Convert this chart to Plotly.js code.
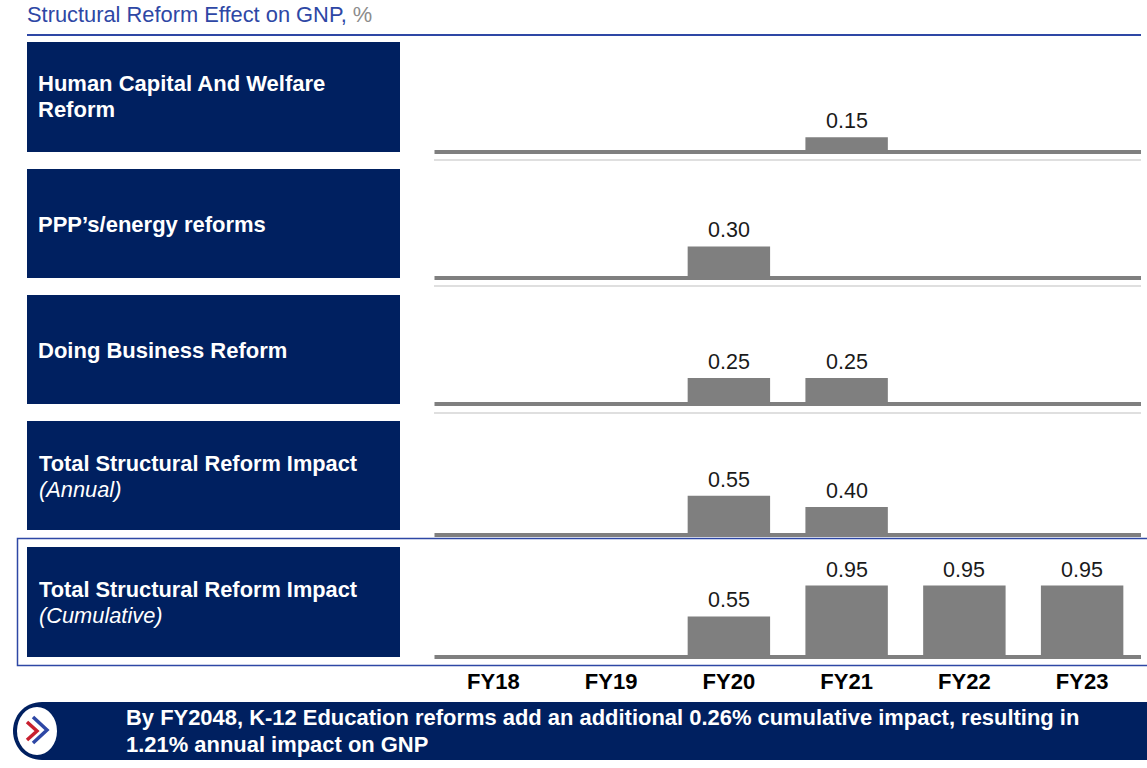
<!DOCTYPE html>
<html><head><meta charset="utf-8">
<script src="https://cdn.plot.ly/plotly-3.0.1.min.js"></script>
<style>html,body{margin:0;padding:0;background:#fff;overflow:hidden}#c{width:1147px;height:768px}</style>
</head><body><div id="c"></div>
<script>
const years = ['FY18','FY19','FY20','FY21','FY22','FY23'];
const humanCapital = [null,null,null,0.15,null,null];
const pppEnergy = [null,null,0.30,null,null,null];
const doingBusiness = [null,null,0.25,0.25,null,null];
const totalAnnual = [null,null,0.55,0.40,null,null];
const totalCumulative = [null,null,0.55,0.95,0.95,0.95];
const series = [humanCapital,pppEnergy,doingBusiness,totalAnnual,totalCumulative];

const titleMain = 'Structural Reform Effect on GNP, ';
const titleUnit = '%';
const rowLabels = [
  ['Human Capital And Welfare','Reform'],
  ['PPP’s/energy reforms'],
  ['Doing Business Reform'],
  ['Total Structural Reform Impact','(Annual)'],
  ['Total Structural Reform Impact','(Cumulative)']
];
const bannerLines = [
  'By FY2048, K-12 Education reforms add an additional 0.26% cumulative impact, resulting in',
  '1.21% annual impact on GNP'
];

const W=1147,H=768, NAVY='#002060', BLUE='#2E47A5', GREY='#7f7f7f', FONT='"Liberation Sans", Arial, sans-serif';
const X=v=>v/W, Y=v=>1-v/H;
const boxes=[[42,152],[169,278],[295,404],[421,530],[547,657]];
const plotTop=[42,168,294,421,543], plotBottom=[154,280,406,537,659];
const yMax=[1,1,1,1.547,1.5];
const textY=[[83.5,109.5],[224.5],[350.5],[463.5,489.5],[589.5,615.5]];
const boxTextX=[37,37,37,38,38];
const sepY=[160,286,413];

const data=[],layout={
  width:W,height:H,margin:{l:0,r:0,t:0,b:0},paper_bgcolor:'#fff',plot_bgcolor:'rgba(0,0,0,0)',
  showlegend:false,bargap:0.3,hovermode:false,font:{family:FONT},shapes:[],annotations:[]
};
const rect=(x0,y0,x1,y1,fill,line,lw)=>({type:'rect',xref:'paper',yref:'paper',x0:X(x0),x1:X(x1),y0:Y(y1),y1:Y(y0),
  fillcolor:fill,line:{color:line||fill,width:lw===undefined?0:lw},layer:'below'});
const hline=(x0,x1,y,c,w)=>({type:'line',xref:'paper',yref:'paper',x0:X(x0),x1:X(x1),y0:Y(y),y1:Y(y),line:{color:c,width:w},layer:'below'});
const label=(x,y,text,size,color,extra)=>Object.assign({xref:'paper',yref:'paper',x:X(x),y:Y(y),xanchor:'left',yanchor:'middle',
  showarrow:false,text,font:{size,color,family:FONT},align:'left',borderpad:0},extra||{});

series.forEach((vals,i)=>{
  const s=i?String(i+1):'';
  data.push({type:'bar',x:years,y:vals,xaxis:'x'+s,yaxis:'y'+s,marker:{color:GREY,line:{width:0}},cliponaxis:false,hoverinfo:'skip'});
  layout['xaxis'+s]={domain:[X(434.5),X(1141)],anchor:'y'+s,type:'category',categoryorder:'array',categoryarray:years,
    showline:false,showgrid:false,zeroline:false,ticks:'',fixedrange:true,
    showticklabels:i===4,tickfont:{size:22,color:'#000',family:FONT,weight:'bold'},ticklabelstandoff:7};
  layout['yaxis'+s]={domain:[Y(plotBottom[i]),Y(plotTop[i])],anchor:'x'+s,range:[0,yMax[i]],visible:false,fixedrange:true};
  layout.shapes.push({type:'rect',xref:'x'+s+' domain',yref:'y'+s,ysizemode:'pixel',yanchor:0,x0:0,x1:1,y0:0,y1:4,
    fillcolor:GREY,line:{width:0},layer:'below'});
  layout.shapes.push(rect(27,boxes[i][0],400,boxes[i][1],NAVY));
  vals.forEach((v,k)=>{ if(v===null) return;
    layout.annotations.push({xref:'x'+s,yref:'y'+s,x:years[k],y:v,yanchor:'middle',xanchor:'center',yshift:16,showarrow:false,
      text:v.toFixed(2),font:{size:21.5,color:'#1a1a1a',family:FONT}});
  });
  rowLabels[i].forEach((t,j)=>{
    const italic=i>=3&&j===1;
    layout.annotations.push(label(boxTextX[i],textY[i][j],italic?'<i>'+t+'</i>':'<b>'+t+'</b>',i>=3?21.8:22,'#fff'));
  });
});
sepY.forEach(y=>layout.shapes.push(hline(434,1141,y,'#d4d4d4',1.5)));
layout.annotations.push(label(27,14.5,'<span style="color:'+BLUE+'">'+titleMain+'</span><span style="color:#8c8c8c">'+titleUnit+'</span>',21.85,BLUE,{xshift:-1}));
layout.shapes.push(hline(27,1141,35,BLUE,2));
layout.shapes.push({type:'rect',xref:'paper',yref:'paper',x0:X(17.5),x1:X(1150),y0:Y(665.5),y1:Y(538.5),fillcolor:'rgba(0,0,0,0)',line:{color:BLUE,width:1.5},layer:'below'});
const bx=v=>X(v).toFixed(5), by=v=>Y(v).toFixed(5);
layout.shapes.push({type:'path',xref:'paper',yref:'paper',fillcolor:NAVY,line:{width:0},layer:'below',
  path:`M ${bx(1147)} ${by(702)} L ${bx(42)} ${by(702)} C ${bx(24)} ${by(702)} ${bx(13)} ${by(716)} ${bx(13)} ${by(731)} C ${bx(13)} ${by(746)} ${bx(24)} ${by(760)} ${bx(42)} ${by(760)} L ${bx(1147)} ${by(760)} Z`});
layout.shapes.push({type:'circle',xref:'paper',yref:'paper',x0:X(17),x1:X(57),y0:Y(755),y1:Y(707),fillcolor:'#fff',line:{width:0},layer:'below'});
const chev=(pts,c)=>({type:'path',xref:'paper',yref:'paper',line:{color:c,width:3.5},
  path:`M ${bx(pts[0])} ${by(pts[1])} L ${bx(pts[2])} ${by(pts[3])} L ${bx(pts[4])} ${by(pts[5])}`});
layout.shapes.push(chev([33,717,47,730,33,743],BLUE));
layout.shapes.push(chev([27,722,37,731,27,740],'#C8202F'));
bannerLines.forEach((t,j)=>layout.annotations.push(label(125,717+j*27,'<b>'+t+'</b>',21.95,'#fff')));
Plotly.newPlot('c',data,layout,{displayModeBar:false,staticPlot:true});
</script></body></html>
